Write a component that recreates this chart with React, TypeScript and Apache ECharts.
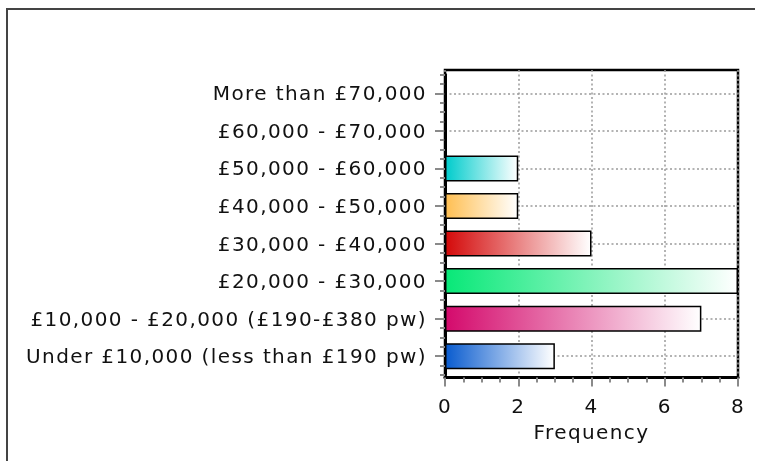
import React, { useEffect, useRef } from "react";
import * as echarts from "echarts";

// Income bands, listed from the bottom of the chart upwards
const CATEGORIES = [
  "Under £10,000 (less than £190 pw)",
  "£10,000 - £20,000 (£190-£380 pw)",
  "£20,000 - £30,000",
  "£30,000 - £40,000",
  "£40,000 - £50,000",
  "£50,000 - £60,000",
  "£60,000 - £70,000",
  "More than £70,000",
];
const FREQUENCY = [3, 7, 8, 4, 2, 2, 0, 0];
const X_TICKS = [0, 2, 4, 6, 8];

// Start colour of each bar's left-to-white gradient
const BAR_COLORS = [
  "#0a5ccf",
  "#d40a6c",
  "#08e878",
  "#d40a0a",
  "#ffbf52",
  "#00cccc",
  "#888888",
  "#888888",
];

const FONT = 'Verdana, "DejaVu Sans", sans-serif';
const FONT_SIZE = 20;
const TEXT = "#111111";
const TICK = { color: "#8a8a8a", width: 2 };
const DOTTED = { color: "#9a9a9a", width: 1.5, type: [2, 2.5] as number[] };

export default function App() {
  const ref = useRef<HTMLDivElement>(null);

  useEffect(() => {
    if (!ref.current) return;
    const chart = echarts.init(ref.current, undefined, { renderer: "svg" });
    // the category bands sit slightly inside the framed plot area
    const bands = { left: 445, top: 74.5, width: 293, height: 300.5 };
    const frame = { left: 445, top: 70, width: 293, height: 307.5 };
    const xRange = {
      type: "value",
      min: X_TICKS[0],
      max: X_TICKS[X_TICKS.length - 1],
      interval: X_TICKS[1] - X_TICKS[0],
    };

    chart.setOption({
      animation: false,
      textStyle: { fontFamily: FONT },
      grid: [
        { ...bands, show: false },
        { ...bands, show: false },
        { ...frame, show: true, borderColor: "#000", borderWidth: 2.5, backgroundColor: "transparent" },
      ],
      xAxis: [
        { ...xRange, gridIndex: 0, show: false },
        { ...xRange, gridIndex: 1, show: false },
        {
          ...xRange,
          gridIndex: 2,
          name: "Frequency",
          nameLocation: "middle",
          nameGap: 44,
          nameTextStyle: { fontSize: FONT_SIZE, color: TEXT, fontFamily: FONT },
          axisLine: { show: true, lineStyle: { color: "#000", width: 3 } },
          axisTick: { show: true, length: 9, lineStyle: TICK },
          minorTick: { show: true, splitNumber: 4, length: 5, lineStyle: TICK },
          axisLabel: { fontSize: FONT_SIZE, color: TEXT, margin: 18, fontFamily: FONT },
          splitLine: { show: true, lineStyle: DOTTED },
        },
      ],
      yAxis: [
        {
          gridIndex: 0,
          type: "category",
          data: CATEGORIES,
          axisLine: { show: true, lineStyle: { color: "#000", width: 3 } },
          axisTick: { show: true, alignWithLabel: true, length: 10, lineStyle: TICK },
          axisLabel: { fontSize: FONT_SIZE, color: TEXT, margin: 18, fontFamily: FONT },
          splitLine: { show: true, alignWithLabel: true, lineStyle: DOTTED },
        },
        {
          // quarter-band minor ticks along the category axis
          gridIndex: 1,
          type: "value",
          min: 0,
          max: CATEGORIES.length * 4,
          interval: 1,
          axisLine: { show: false },
          axisTick: { show: true, length: 5, lineStyle: TICK },
          axisLabel: { show: false },
          splitLine: { show: false },
        },
        { gridIndex: 2, type: "value", min: 0, max: 1, show: false },
      ],
      series: [
        {
          type: "bar",
          xAxisIndex: 0,
          yAxisIndex: 0,
          barWidth: 26,
          z: 3,
          data: FREQUENCY.map((v, i) => ({
            value: v,
            itemStyle: {
              color: new echarts.graphic.LinearGradient(0, 0, 1, 0, [
                { offset: 0, color: BAR_COLORS[i] },
                { offset: 1, color: "#ffffff" },
              ]),
              borderColor: "#000",
              borderWidth: 1.5,
            },
          })),
        },
      ],
    });

    return () => chart.dispose();
  }, []);

  return (
    <>
      <style>{"#root svg text { letter-spacing: 1.4px; }"}</style>
      {/* outer panel frame: left and top edges */}
      <div
        style={{
          position: "fixed",
          left: 6,
          top: 8,
          width: 749,
          height: 453,
          borderLeft: "2px solid #444",
          borderTop: "2px solid #444",
          boxSizing: "border-box",
        }}
      />
      <div
        ref={ref}
        style={{ position: "fixed", left: 0, top: 0, width: 758, height: 461 }}
      />
    </>
  );
}
